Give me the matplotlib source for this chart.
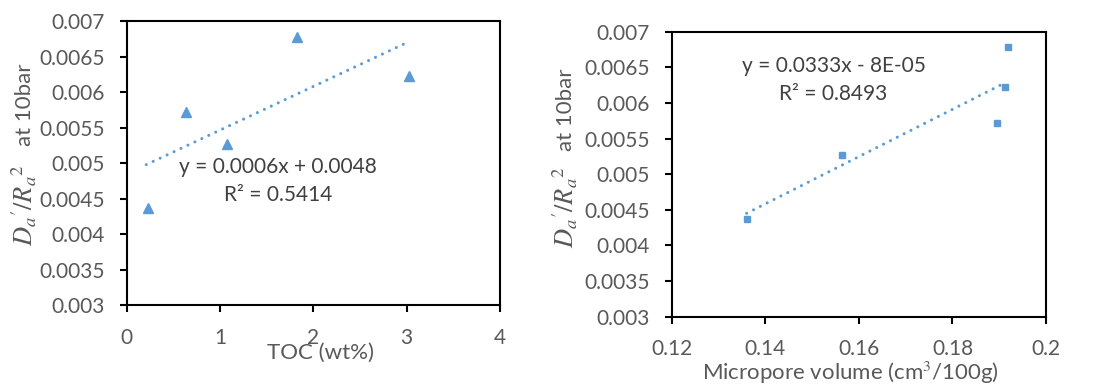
import numpy as np
import matplotlib
matplotlib.use("Agg")
import matplotlib.pyplot as plt

# ---- data ----
toc = [0.23, 0.64, 1.08, 1.82, 3.03]
toc_y = [0.00437, 0.00572, 0.00527, 0.00678, 0.00623]
micro = [0.136, 0.1895, 0.1564, 0.1918, 0.1912]
micro_y = [0.00437, 0.00572, 0.00527, 0.00678, 0.00623]

# trendlines as drawn (slope, intercept, x range)
toc_trend = (0.000615, 0.00485, 0.21, 2.965)
micro_trend = (0.03314, -0.000055, 0.13597, 0.19074)

toc_eq = "y = 0.0006x + 0.0048\nR² = 0.5414"
micro_eq = "y = 0.0333x - 8E-05\nR² = 0.8493"

toc_xticks = [0, 1, 2, 3, 4]
micro_xticks = [0.12, 0.14, 0.16, 0.18, 0.2]
yticks = [0.003, 0.0035, 0.004, 0.0045, 0.005, 0.0055, 0.006, 0.0065, 0.007]

ylabel_math = r"$D_a{}^{\prime}/R_a{}^{2}$"
ylabel_text = "at 10bar"

plt.rcParams['font.family'] = ['Lato', 'DejaVu Sans']
plt.rcParams['mathtext.fontset'] = 'stix'

BLUE = '#5B9BD5'
GREY = '#595959'
FS = 15

fig = plt.figure(figsize=(11.08, 3.88), dpi=100)
ax1 = fig.add_axes([0.1143, 0.2131, 0.3370, 0.7327])
ax2 = fig.add_axes([0.6065, 0.1838, 0.3375, 0.7345])


def style(ax, xticks, xlim):
    ax.set_ylim(0.003, 0.007)
    ax.set_yticks(yticks)
    ax.set_yticklabels([("%g" % v) for v in yticks])
    ax.set_xlim(*xlim)
    ax.set_xticks(xticks)
    ax.set_xticklabels([("%g" % v) for v in xticks])
    for s in ax.spines.values():
        s.set_color('black')
        s.set_linewidth(1.5)
    ax.tick_params(direction='out', length=5, width=1.5, color='black',
                   labelsize=FS, labelcolor=GREY)
    ax.tick_params(axis='y', pad=11)
    ax.tick_params(axis='x', pad=11)


style(ax1, toc_xticks, (0, 4))
style(ax2, micro_xticks, (0.12, 0.2))

DOTS = (0, (0.01, 2.5))

ax1.plot(toc, toc_y, linestyle='none', marker='^', markersize=7, color=BLUE)
xs = np.array(toc_trend[2:])
ax1.plot(xs, toc_trend[0] * xs + toc_trend[1], linestyle=DOTS,
         dash_capstyle='round', linewidth=2.2, color=BLUE)

ax2.plot(micro, micro_y, linestyle='none', marker='s', markersize=5, color=BLUE)
xs = np.array(micro_trend[2:])
ax2.plot(xs, micro_trend[0] * xs + micro_trend[1], linestyle=DOTS,
         dash_capstyle='round', linewidth=2.2, color=BLUE)

ax1.text(0.405, 0.438, toc_eq, transform=ax1.transAxes, ha='center', va='center',
         multialignment='center', fontsize=FS, color='#404040', linespacing=1.5)
ax2.text(0.432, 0.8305, micro_eq, transform=ax2.transAxes, ha='center', va='center',
         multialignment='center', fontsize=FS, color='#404040', linespacing=1.5)

ax1.set_xlabel("TOC (wt%)", fontsize=FS + 1, color=GREY)
ax1.xaxis.set_label_coords(0.518, -0.168)
ax1.xaxis.label.set_va('center')

ax2.set_xlabel("Micropore volume (cm$^3$/100g)", fontsize=FS + 1, color=GREY)
ax2.xaxis.set_label_coords(0.476, -0.1975)
ax2.xaxis.label.set_va('center')

# y labels: math part (larger) and plain text part
for ax, xm, ym, yt in [(ax1, -0.275, 0.352, 0.7045), (ax2, -0.286, 0.384, 0.725)]:
    ax.text(xm, ym, ylabel_math, transform=ax.transAxes, rotation=90,
            ha='center', va='center', fontsize=19, color=GREY)
    ax.text(xm + 0.002, yt, ylabel_text, transform=ax.transAxes, rotation=90,
            ha='center', va='center', fontsize=FS + 1, color=GREY)

fig.savefig("out.png", dpi=100)
